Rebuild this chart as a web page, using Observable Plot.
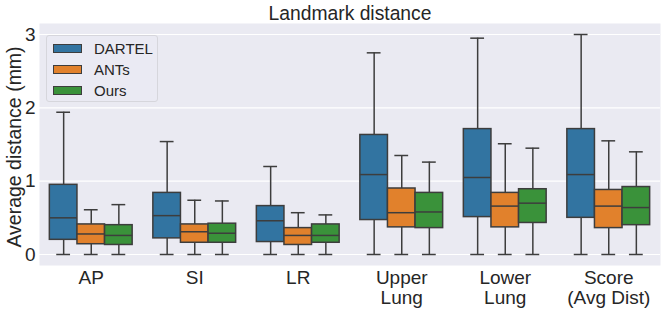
<!DOCTYPE html>
<html>
<head>
<meta charset="utf-8">
<script src="https://cdn.jsdelivr.net/npm/d3@7"></script>
<script src="https://cdn.jsdelivr.net/npm/@observablehq/plot@0.6"></script>
<style>
  html, body { margin: 0; padding: 0; background: white; }
  #chart { position: relative; width: 664px; height: 313px; font-family: "Liberation Sans", Arial, sans-serif; color: #262626; }
  #legend { position: absolute; left: 46px; top: 35px; width: 112px; height: 67px; box-sizing: border-box;
            border: 1px solid #d6d6dc; border-radius: 3px; background: rgba(234,234,242,0.8); }
  .item { position: absolute; left: 6px; height: 20px; display: flex; align-items: center; font-size: 15px; }
  .sw { width: 29px; height: 9px; border: 1px solid #3d3d3d; margin-right: 12px; box-sizing: border-box; }
</style>
</head>
<body>
<div id="chart"></div>
<script>
const title = "Landmark distance";
const yLabel = "Average distance (mm)";
const categories = ["AP", "SI", "LR", "Upper\nLung", "Lower\nLung", "Score\n(Avg Dist)"];
const methods = ["DARTEL", "ANTs", "Ours"];
const colors = ["#3274a1", "#e1812c", "#3a923a"];
const yTicks = [0, 1, 2, 3];

// per category: [lower whisker, Q1, median, Q3, upper whisker]
const dartel = [
  [0, 0.20, 0.50, 0.95, 1.94],
  [0, 0.22, 0.53, 0.84, 1.54],
  [0, 0.17, 0.46, 0.66, 1.20],
  [0, 0.47, 1.09, 1.63, 2.75],
  [0, 0.51, 1.05, 1.71, 2.95],
  [0, 0.50, 1.09, 1.71, 3.00]
];
const ants = [
  [0, 0.14, 0.28, 0.41, 0.61],
  [0, 0.16, 0.31, 0.41, 0.74],
  [0, 0.13, 0.26, 0.36, 0.57],
  [0, 0.37, 0.57, 0.90, 1.35],
  [0, 0.37, 0.66, 0.84, 1.51],
  [0, 0.36, 0.66, 0.88, 1.55]
];
const ours = [
  [0, 0.13, 0.26, 0.40, 0.68],
  [0, 0.16, 0.29, 0.42, 0.73],
  [0, 0.16, 0.26, 0.41, 0.54],
  [0, 0.36, 0.58, 0.84, 1.26],
  [0, 0.43, 0.70, 0.89, 1.45],
  [0, 0.40, 0.64, 0.92, 1.40]
];

const series = [dartel, ants, ours];
const groupWidth = 0.8;
const boxW = groupWidth / methods.length;
const rows = [];
series.forEach((s, j) => s.forEach((v, i) => {
  const cx = i + (j - (methods.length - 1) / 2) * boxW;
  rows.push({cat: i, method: methods[j], color: colors[j], cx,
             left: cx - boxW / 2, right: cx + boxW / 2,
             capL: cx - boxW / 4, capR: cx + boxW / 4,
             low: v[0], q1: v[1], med: v[2], q3: v[3], high: v[4]});
}));

const lineColor = "#3d3d3d";
const plot = Plot.plot({
  width: 664,
  height: 313,
  marginLeft: 39,
  marginRight: 4,
  marginTop: 23,
  marginBottom: 48,
  x: {domain: [-0.5, categories.length - 0.5], axis: null},
  y: {domain: [-0.15, 3.15], axis: null},
  style: {fontFamily: "'Liberation Sans', Arial, sans-serif", color: "#262626", background: "white", overflow: "visible"},
  marks: [
    Plot.frame({fill: "#eaeaf2", stroke: null}),
    Plot.gridY(yTicks, {stroke: "white", strokeOpacity: 1, strokeWidth: 1.2}),
    Plot.ruleX(rows, {x: "cx", y1: "low", y2: "q1", stroke: lineColor, strokeWidth: 1.5}),
    Plot.ruleX(rows, {x: "cx", y1: "q3", y2: "high", stroke: lineColor, strokeWidth: 1.5}),
    Plot.ruleY(rows, {y: "low", x1: "capL", x2: "capR", stroke: lineColor, strokeWidth: 1.5}),
    Plot.ruleY(rows, {y: "high", x1: "capL", x2: "capR", stroke: lineColor, strokeWidth: 1.5}),
    Plot.rect(rows, {x1: "left", x2: "right", y1: "q1", y2: "q3", fill: "color", stroke: lineColor, strokeWidth: 1.5}),
    Plot.ruleY(rows, {y: "med", x1: "left", x2: "right", stroke: lineColor, strokeWidth: 1.5}),
    Plot.axisY(yTicks, {tickSize: 0, tickPadding: 4, fontSize: 19, label: null, tickFormat: d => String(d)}),
    Plot.axisX(d3.range(categories.length), {tickSize: 0, tickPadding: 4, fontSize: 19, lineHeight: 1.07, label: null, tickFormat: i => categories[i]}),
    Plot.text([title], {frameAnchor: "top", lineAnchor: "bottom", textAnchor: "middle", dy: -4, fontSize: 19.3, fill: "#262626"}),
    Plot.text([yLabel], {frameAnchor: "left", rotate: -90, textAnchor: "middle", lineAnchor: "middle", dx: -25, dy: 2.5, fontSize: 19.5, fill: "#262626"})
  ]
});

const chart = document.getElementById("chart");
chart.appendChild(plot);
const legend = document.createElement("div");
legend.id = "legend";
methods.forEach((m, j) => {
  const item = document.createElement("div");
  item.className = "item";
  item.style.top = (2 + j * 21.3) + "px";
  const sw = document.createElement("span");
  sw.className = "sw";
  sw.style.background = colors[j];
  item.appendChild(sw);
  item.appendChild(document.createTextNode(m));
  legend.appendChild(item);
});
chart.appendChild(legend);
</script>
</body>
</html>
